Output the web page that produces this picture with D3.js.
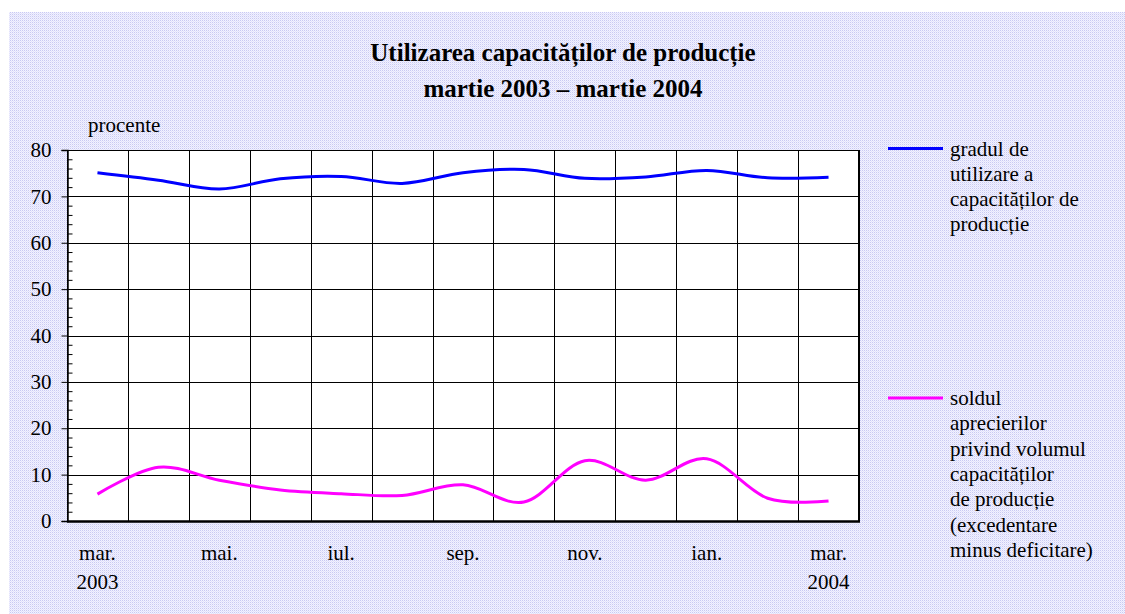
<!DOCTYPE html>
<html>
<head>
<meta charset="utf-8">
<script src="https://cdn.jsdelivr.net/npm/d3@7.9.0/dist/d3.min.js"></script>
<style>
  body { margin: 0; background: #fff; }
  svg { display: block; font-family: "Liberation Serif", "Times New Roman", serif; }
</style>
</head>
<body>
<svg id="chart" width="1125" height="614"></svg>
<script>
// Data
const months = ['mar03', 'apr03', 'mai03', 'iun03', 'iul03', 'aug03', 'sep03',
                'oct03', 'nov03', 'dec03', 'ian04', 'feb04', 'mar04'];
const monthLabels = ['mar.', '', 'mai.', '', 'iul.', '', 'sep.', '', 'nov.', '', 'ian.', '', 'mar.'];
const yearLabels = ['2003', '', '', '', '', '', '', '', '', '', '', '', '2004'];
const utilizare = [75.1, 73.5, 71.6, 73.8, 74.3, 72.8, 75.1, 75.8, 73.9, 74.2, 75.6, 74.0, 74.1];
const sold = [5.8, 11.6, 8.8, 6.7, 5.9, 5.5, 7.8, 4.1, 13.0, 8.8, 13.4, 4.9, 4.3];
const yTicks = [0, 10, 20, 30, 40, 50, 60, 70, 80];
const titleLines = ['Utilizarea capacităților de producție', 'martie 2003 – martie 2004'];
const legendBlue = ['gradul de', 'utilizare a', 'capacităților de', 'producție'];
const legendPink = ['soldul', 'aprecierilor', 'privind volumul', 'capacităților',
                    'de producție', '(excedentare', 'minus deficitare)'];

const svg = d3.select('#chart');

// Dotted lavender background
const defs = svg.append('defs');
const pat = defs.append('pattern')
    .attr('id', 'dots')
    .attr('width', 2).attr('height', 2)
    .attr('patternUnits', 'userSpaceOnUse');
pat.append('rect').attr('width', 2).attr('height', 2).attr('fill', '#f2f2ff');
pat.append('rect').attr('width', 1).attr('height', 1).attr('fill', '#c9c9f2');
pat.append('rect').attr('x', 1).attr('y', 1).attr('width', 1).attr('height', 1).attr('fill', '#e2e2fb');

svg.append('rect')
    .attr('x', 9).attr('y', 12)
    .attr('width', 1125 - 9).attr('height', 614 - 12)
    .attr('fill', 'url(#dots)');

// Scales
const plotL = 67, plotR = 859, plotT = 150, plotB = 521;
const x = d3.scaleBand().domain(months).range([plotL, plotR]);
const y = d3.scaleLinear().domain([0, 80]).range([plotB, plotT]);
const cx = (m) => x(m) + x.bandwidth() / 2;

// Plot area
svg.append('rect')
    .attr('x', plotL).attr('y', plotT)
    .attr('width', plotR - plotL).attr('height', plotB - plotT)
    .attr('fill', '#fff');

// Horizontal grid
svg.append('g')
    .selectAll('line')
    .data(yTicks)
    .join('line')
    .attr('x1', plotL).attr('x2', plotR)
    .attr('y1', (d) => Math.round(y(d)) + 0.5)
    .attr('y2', (d) => Math.round(y(d)) + 0.5)
    .attr('stroke', '#000').attr('stroke-width', 1);

// Vertical grid at band boundaries
svg.append('g')
    .selectAll('line')
    .data(months.slice(1))
    .join('line')
    .attr('x1', (d) => Math.round(x(d)) + 0.5)
    .attr('x2', (d) => Math.round(x(d)) + 0.5)
    .attr('y1', plotT).attr('y2', plotB)
    .attr('stroke', '#000').attr('stroke-width', 1);

// Border
svg.append('rect')
    .attr('x', plotL + 0.5).attr('y', plotT + 0.5)
    .attr('width', plotR - plotL - 1).attr('height', plotB - plotT)
    .attr('fill', 'none').attr('stroke', '#000').attr('stroke-width', 1);
svg.append('line')
    .attr('x1', plotR).attr('x2', plotR)
    .attr('y1', plotT).attr('y2', plotB + 1)
    .attr('stroke', '#000').attr('stroke-width', 2);

// Y axis: major ticks outside, minor ticks inside
const yAxis = svg.append('g')
    .attr('transform', `translate(${plotL + 0.5},0)`)
    .call(d3.axisLeft(y).tickValues(yTicks).tickSize(6).tickPadding(10));
yAxis.select('.domain').attr('stroke-width', 1.5);
yAxis.selectAll('.tick text')
    .attr('font-family', '"Liberation Serif", serif')
    .attr('font-size', 21)
    .attr('fill', '#000');

const minor = d3.range(0, 81, 2).filter((v) => v % 10 !== 0);
svg.append('g')
    .attr('transform', `translate(${plotL + 0.5},0)`)
    .call(d3.axisRight(y).tickValues(minor).tickSize(5).tickFormat(''))
    .select('.domain').remove();

// X axis line
svg.append('line')
    .attr('x1', plotL).attr('x2', plotR + 1)
    .attr('y1', plotB + 0.5).attr('y2', plotB + 0.5)
    .attr('stroke', '#000').attr('stroke-width', 2.5);

// X labels
const xl = svg.append('g')
    .attr('font-size', 21)
    .attr('text-anchor', 'middle')
    .attr('fill', '#000');
xl.selectAll('text.m')
    .data(months)
    .join('text')
    .attr('class', 'm')
    .attr('x', (d) => cx(d))
    .attr('y', 560)
    .text((d, i) => monthLabels[i]);
xl.selectAll('text.yr')
    .data(months)
    .join('text')
    .attr('class', 'yr')
    .attr('x', (d) => cx(d))
    .attr('y', 589)
    .text((d, i) => yearLabels[i]);

// Series
const line = d3.line()
    .x((d, i) => cx(months[i]))
    .y((d) => y(d))
    .curve(d3.curveCatmullRom.alpha(0));

svg.append('path')
    .datum(utilizare)
    .attr('d', line)
    .attr('fill', 'none')
    .attr('stroke', '#0000ff')
    .attr('stroke-width', 3);

svg.append('path')
    .datum(sold)
    .attr('d', line)
    .attr('fill', 'none')
    .attr('stroke', '#ff00ff')
    .attr('stroke-width', 3);

// Title
svg.append('g')
    .attr('font-size', 25)
    .attr('font-weight', 'bold')
    .attr('text-anchor', 'middle')
    .selectAll('text')
    .data(titleLines)
    .join('text')
    .attr('x', 563)
    .attr('y', (d, i) => 61 + i * 36)
    .text((d) => d);

// Unit label
svg.append('text')
    .attr('x', 88).attr('y', 132)
    .attr('font-size', 21)
    .text('procente');

// Legend
function legendEntry(lines, color, ly) {
    svg.append('line')
        .attr('x1', 888).attr('x2', 943)
        .attr('y1', ly).attr('y2', ly)
        .attr('stroke', color).attr('stroke-width', 3);
    svg.append('g')
        .attr('font-size', 21)
        .selectAll('text')
        .data(lines)
        .join('text')
        .attr('x', 950)
        .attr('y', (d, i) => ly + 7 + i * 25.3)
        .text((d) => d);
}
legendEntry(legendBlue, '#0000ff', 148.5);
legendEntry(legendPink, '#ff00ff', 398);
</script>
</body>
</html>
